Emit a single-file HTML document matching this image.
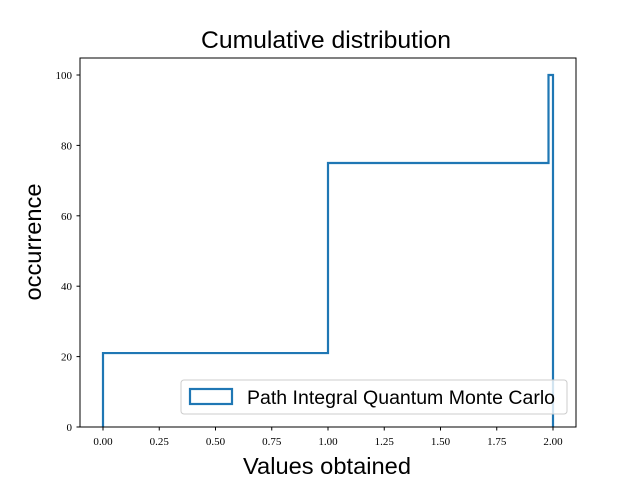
<!DOCTYPE html>
<html><head><meta charset="utf-8"><style>
body{margin:0;background:#fff}
svg text{fill:#000}
.tk{font-family:"Liberation Serif","DejaVu Serif",serif;font-size:11px}
.lb{font-family:"Liberation Sans","DejaVu Sans",sans-serif}
</style></head><body>
<svg id="chart" width="640" height="480" xmlns="http://www.w3.org/2000/svg">
<rect width="640" height="480" fill="#fff"/>
<text x="326" y="48" text-anchor="middle" class="lb" font-size="24" textLength="250" lengthAdjust="spacingAndGlyphs">Cumulative distribution</text>
<text x="327" y="474" text-anchor="middle" class="lb" font-size="23" textLength="168" lengthAdjust="spacingAndGlyphs">Values obtained</text>
<text transform="translate(41,242) rotate(-90)" text-anchor="middle" class="lb" font-size="23" textLength="117" lengthAdjust="spacingAndGlyphs">occurrence</text>
<g id="xt"></g>
<g id="yt"></g>
<path id="step" fill="none" stroke="#1f77b4" stroke-width="2.2" stroke-linejoin="miter"/>
<rect x="80" y="58" width="496" height="369" fill="none" stroke="#000" stroke-width="1"/>
<g>
<rect x="181" y="380" width="386" height="34" rx="3" fill="#fff" fill-opacity="0.8" stroke="#ccc"/>
<rect x="190" y="389" width="42" height="15" fill="none" stroke="#1f77b4" stroke-width="2.2"/>
<text x="247" y="404" class="lb" font-size="19" textLength="308" lengthAdjust="spacingAndGlyphs">Path Integral Quantum Monte Carlo</text>
</g>
</svg>
<script>
const sampleValues=[0,1,2];
const sampleCounts=[21,54,25];
const xTicks=[0,0.25,0.5,0.75,1,1.25,1.5,1.75,2];
const xTickLabels=["0.00","0.25","0.50","0.75","1.00","1.25","1.50","1.75","2.00"];
const yTicks=[0,20,40,60,80,100];
const binCount=100;
const X=v=>103+v*225, Y=v=>427-v*3.52;
const NS="http://www.w3.org/2000/svg";
const xt=document.getElementById('xt'), yt=document.getElementById('yt');
xTicks.forEach((t,i)=>{
 const l=document.createElementNS(NS,'line');
 
 
 l.setAttribute('x1',X(t));l.setAttribute('x2',X(t));l.setAttribute('y1',427);l.setAttribute('y2',430.5);l.setAttribute('stroke','#000');
 xt.appendChild(l);
 const s=document.createElementNS(NS,'text');
 
 
 s.setAttribute('x',X(t));s.setAttribute('y',445);s.setAttribute('text-anchor','middle');s.setAttribute('class','tk');
 s.textContent=xTickLabels[i];xt.appendChild(s);
});
yTicks.forEach(t=>{
 const l=document.createElementNS(NS,'line');
 
 
 l.setAttribute('x1',76.5);l.setAttribute('x2',80);l.setAttribute('y1',Y(t));l.setAttribute('y2',Y(t));l.setAttribute('stroke','#000');
 yt.appendChild(l);
 const s=document.createElementNS(NS,'text');
 
 
 s.setAttribute('x',72);s.setAttribute('y',Y(t)+4);s.setAttribute('text-anchor','end');s.setAttribute('class','tk');
 s.textContent=t;yt.appendChild(s);
});
const lo=Math.min(...sampleValues), hi=Math.max(...sampleValues), w=(hi-lo)/binCount;
const bins=new Array(binCount).fill(0);
sampleValues.forEach((v,i)=>{let b=Math.floor((v-lo)/w);if(b>=binCount)b=binCount-1;bins[b]+=sampleCounts[i];});
let cum=0,d=`M${X(lo)},${Y(0)}`;
bins.forEach((c,i)=>{cum+=c;d+=` L${X(lo+i*w)},${Y(cum)} L${X(lo+(i+1)*w)},${Y(cum)}`;});
d+=` L${X(hi)},${Y(0)}`;
document.getElementById('step').setAttribute('d',d);
</script>
</body></html>
